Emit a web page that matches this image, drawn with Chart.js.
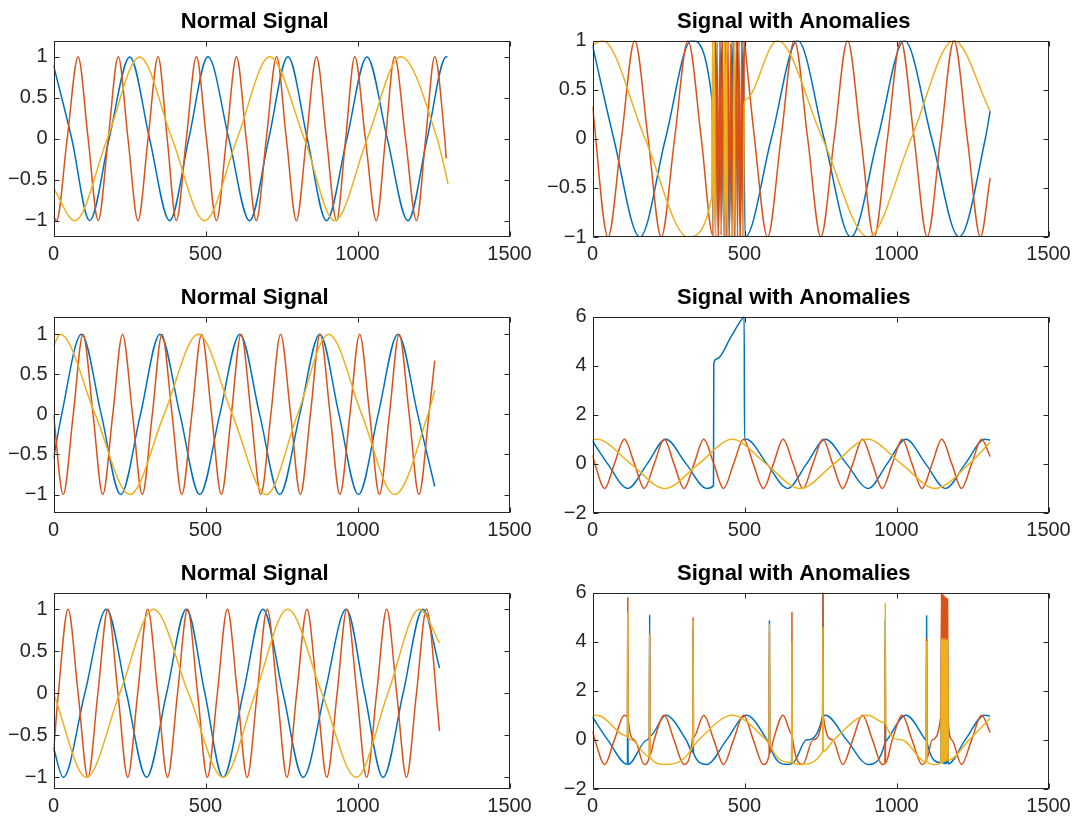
<!DOCTYPE html>
<html>
<head>
<meta charset="utf-8">
<script src="https://cdn.jsdelivr.net/npm/chart.js@4.4.0/dist/chart.umd.min.js"></script>
<style>
    body { margin: 0; background: #fff; }
    #figure { position: relative; width: 1076px; height: 821px; background: #fff; overflow: hidden; }
    #figure canvas { position: absolute; }
</style>
</head>
<body>
<div id="figure">
    <canvas id="g1" width="540" height="272" style="left:0px;top:0px"></canvas>
    <canvas id="g2" width="540" height="272" style="left:539px;top:0px"></canvas>
    <canvas id="g3" width="540" height="272" style="left:0px;top:276px"></canvas>
    <canvas id="g4" width="540" height="272" style="left:539px;top:276px"></canvas>
    <canvas id="g5" width="540" height="272" style="left:0px;top:552px"></canvas>
    <canvas id="g6" width="540" height="272" style="left:539px;top:552px"></canvas>
</div>
<script>
// ============================================================================
// Données : [x, valeur] (pics, creux, passages à zéro)
// ============================================================================
const TITRE_NORMAL = 'Normal Signal';
const TITRE_ANOMALIE = 'Signal with Anomalies';

const ticksX = [0, 500, 1000, 1500];
const ticksUnite = [-1, -0.5, 0, 0.5, 1];
const ticksLarges = [-2, 0, 2, 4, 6];

// --- Ligne 1, gauche (signal normal)
const normal1Bleu = [[0,0.9],[60,0],[119,-1],[183,0],[251,1],[316,0],[382,-1],[445,0],[508,1],[577,0],[645,-1],[708,0],[771,1],[835,0],[898,-1],[965,0],[1031,1],[1098,0],[1166,-1],[1229,0],[1292,1],[1296,1]];
const normal1Rouge = [[0,-0.95],[10,-1],[45,0],[81,1],[114,0],[147,-1],[180,0],[213,1],[245,0],[278,-1],[311,0],[344,1],[374,0],[404,-1],[437,0],[470,1],[503,0],[536,-1],[569,0],[602,1],[634,0],[667,-1],[700,0],[734,1],[766,0],[799,-1],[832,0],[865,1],[898,0],[931,-1],[961,0],[991,1],[1026,0],[1062,-1],[1092,0],[1122,1],[1158,0],[1194,-1],[1224,0],[1254,1],[1287,0],[1292,-0.24]];
const normal1Jaune = [[0,-0.6],[70,-1],[177,0],[283,1],[390,0],[497,-1],[604,0],[711,1],[825,0],[925,-1],[1032,0],[1142,1],[1262,0],[1298,-0.55]];

// --- Ligne 1, droite (salve haute fréquence vers 400-500)
const anomalie1Bleu = [[0,0.95],[70,0],[156,-1],[240,0],[325,1],[393,0.4],[398,-1],[405,1],[414,-1],[423,1],[432,-1],[441,1],[450,-1],[459,1],[468,-1],[477,1],[486,-1],[495,1],[502,-1],[588,0],[675,1],[762,0],[850,-1],[938,0],[1026,1],[1116,0],[1206,-1],[1292,0],[1308,0.28]];
const anomalie1Rouge = [[0,0.33],[51,-1],[95,0],[139,1],[183,0],[226,-1],[270,0],[314,1],[358,0],[396,-0.98],[401,1],[405,-1],[410,0.98],[414,-1],[419,1],[423,-0.98],[428,1],[432,-1],[437,0.99],[441,-1],[446,1],[450,-1],[455,0.97],[459,-1],[464,1],[468,-0.99],[473,1],[477,-1],[482,1],[486,-1],[491,1],[495,-1],[500,0.99],[505,0.84],[533,0],[576,-1],[620,0],[664,1],[708,0],[751,-1],[795,0],[839,1],[883,0],[926,-1],[970,0],[1014,1],[1058,0],[1101,-1],[1145,0],[1189,1],[1233,0],[1276,-1],[1308,-0.4]];
const anomalie1Jaune = [[0,0.95],[32,1],[173,0],[314,-1],[392,-0.6],[395,1],[398,-1],[401,1],[404,-1],[432,-1],[435,1],[438,-1],[441,1],[444,-1],[463,-1],[466,1],[469,-1],[496,-1],[499,0.35],[505,0.4],[608,1],[757,0],[907,-1],[1048,0],[1189,1],[1308,0.28]];

// --- Ligne 2, gauche
const normal2Bleu = [[0,-0.55],[27,0],[92,1],[157,0],[221,-1],[286,0],[350,1],[416,0],[481,-1],[547,0],[613,1],[678,0],[744,-1],[810,0],[876,1],[939,0],[1003,-1],[1068,0],[1133,1],[1198,0],[1254,-0.9]];
const normal2Rouge = [[0,0],[32,-1],[65,0],[97,1],[130,0],[162,-1],[195,0],[227,1],[260,0],[292,-1],[325,0],[357,1],[390,0],[422,-1],[455,0],[487,1],[520,0],[552,-1],[585,0],[617,1],[650,0],[682,-1],[715,0],[747,1],[780,0],[812,-1],[845,0],[877,1],[910,0],[942,-1],[975,0],[1007,1],[1040,0],[1072,-1],[1105,0],[1137,1],[1170,0],[1202,-1],[1235,0],[1254,0.67]];
const normal2Jaune = [[0,0.85],[22,1],[137,0],[251,-1],[364,0],[476,1],[588,0],[700,-1],[803,0],[905,1],[1014,0],[1122,-1],[1232,0],[1254,0.3]];

// --- Ligne 2, droite (décalage de +5 sur 400-500)
const anomalie2Bleu = [[0,0.93],[50,0],[116,-1],[180,0],[241,1],[308,0],[376,-1],[398,-0.88],[399,4.1],[410,4.28],[455,5.16],[497,5.98],[499,5.99],[500,1],[506,1],[574,0],[642,-1],[704,0],[766,1],[836,0],[907,-1],[969,0],[1031,1],[1096,0],[1161,-1],[1226,0],[1290,1],[1308,0.97]];
const anomalie2Rouge = [[0,0.35],[8,0],[40,-1],[72,0],[105,1],[138,0],[170,-1],[203,0],[236,1],[268,0],[301,-1],[334,0],[366,1],[399,0],[431,-1],[464,0],[497,1],[529,0],[562,-1],[595,0],[627,1],[660,0],[692,-1],[725,0],[758,1],[790,0],[823,-1],[856,0],[888,1],[921,0],[953,-1],[986,0],[1019,1],[1051,0],[1084,-1],[1117,0],[1149,1],[1182,0],[1214,-1],[1247,0],[1280,1],[1308,0.3]];
const anomalie2Jaune = [[0,0.99],[15,1],[126,0],[238,-1],[349,0],[460,1],[571,0],[683,-1],[794,0],[905,1],[1016,0],[1128,-1],[1239,0],[1308,0.88]];

// --- Ligne 3, gauche
const normal3Bleu = [[0,-0.65],[32,-1],[103,0],[174,1],[240,0],[306,-1],[372,0],[437,1],[498,0],[558,-1],[624,0],[689,1],[755,0],[821,-1],[892,0],[963,1],[1023,0],[1084,-1],[1150,0],[1215,1],[1270,0.3]];
const normal3Rouge = [[0,-0.7],[16,0],[48,1],[81,0],[113,-1],[146,0],[179,1],[212,0],[244,-1],[277,0],[310,1],[343,0],[375,-1],[408,0],[441,1],[474,0],[506,-1],[539,0],[572,1],[605,0],[637,-1],[670,0],[703,1],[736,0],[768,-1],[800,0],[834,1],[867,0],[899,-1],[933,0],[965,1],[998,0],[1030,-1],[1063,0],[1096,1],[1129,0],[1161,-1],[1194,0],[1227,1],[1270,-0.45]];
const normal3Jaune = [[0,0],[108,-1],[218,0],[329,1],[444,0],[558,-1],[664,0],[770,1],[883,0],[996,-1],[1100,0],[1204,1],[1270,0.6]];

// --- Ligne 3, droite (pics isolés et rafale vers 1150)
const anomalie3Bleu = [[0,0.93],[50,0],[115,-1],[116,4.0],[117,-1],[180,0],[187,0.13],[188,5.1],[189,0.17],[241,1],[308,0],[330,-0.5],[331,4.5],[332,-0.52],[376,-1],[441,0],[506,1],[574,0],[581,-0.17],[582,4.85],[583,-0.21],[642,-1],[655,-0.97],[656,4.0],[657,-0.96],[704,0],[757,0.98],[758,5.98],[759,0.99],[766,1],[836,0],[907,-1],[962,-0.12],[963,4.9],[964,-0.08],[969,0],[1031,1],[1096,0],[1098,-0.03],[1099,5.05],[1100,-0.08],[1146,-0.93],[1148,4.0],[1150,-0.96],[1152,4.02],[1154,-0.98],[1156,4.0],[1158,-0.99],[1160,4.0],[1162,-1],[1164,4.0],[1166,-0.99],[1168,4.0],[1170,-0.98],[1226,0],[1290,1],[1308,0.97]];
const anomalie3Rouge = [[0,0.35],[8,0],[40,-1],[72,0],[105,1],[115,0.95],[116,5.8],[117,0.9],[138,0],[170,-1],[187,-0.68],[188,4.35],[189,-0.62],[203,0],[236,1],[268,0],[301,-1],[330,0.2],[331,5.0],[332,0.1],[366,1],[399,0],[431,-1],[464,0],[497,1],[529,0],[562,-1],[581,-0.6],[582,4.4],[583,-0.55],[595,0],[627,1],[655,0.25],[656,5.2],[657,0.15],[692,-1],[725,0],[757,1],[758,6],[759,1],[790,0],[823,-1],[856,0],[888,1],[921,0],[953,-1],[962,-0.96],[963,4.05],[964,-0.93],[986,0],[1019,1],[1051,0],[1084,-1],[1098,-0.8],[1099,4.15],[1100,-0.76],[1117,0],[1146,0.98],[1148,5.95],[1150,1],[1152,5.95],[1154,0.98],[1156,5.9],[1158,0.94],[1160,5.85],[1162,0.9],[1164,5.8],[1166,0.85],[1168,5.75],[1170,0.78],[1182,0],[1214,-1],[1247,0],[1280,1],[1308,0.3]];
const anomalie3Jaune = [[0,0.99],[15,1],[115,0.15],[116,5.2],[117,0.13],[126,0],[187,-0.69],[188,4.3],[189,-0.71],[238,-1],[330,-0.27],[331,4.85],[332,-0.23],[349,0],[460,1],[571,0],[581,-0.14],[582,4.7],[583,-0.17],[655,-0.92],[656,4.0],[657,-0.93],[683,-1],[757,-0.49],[758,4.6],[759,-0.47],[794,0],[905,1],[962,0.69],[963,5.55],[964,0.67],[1016,0],[1098,-0.9],[1099,4.0],[1100,-0.9],[1128,-1],[1146,-0.96],[1148,4.1],[1150,-0.95],[1152,4.15],[1154,-0.93],[1156,4.1],[1158,-0.91],[1160,4.15],[1162,-0.89],[1164,4.1],[1166,-0.86],[1168,4.1],[1170,-0.83],[1239,0],[1308,0.88]];

// ============================================================================
// Style (couleurs MATLAB par défaut)
// ============================================================================
const COULEURS = ['#0072BD', '#D95319', '#EDB120'];
const COULEUR_AXE = '#262626';
const LONGUEUR_TICK = 5;

Chart.defaults.font.family = '"Liberation Sans", Arial, sans-serif';

// Signe moins typographique comme dans MATLAB
const formaterTick = (v) => (v < 0 ? '\u2212' + String(-v) : String(v));

// Cadre complet + graduations tournées vers l'intérieur, sur les 4 côtés
const pluginCadre = {
    id: 'cadre',
    afterDatasetsDraw(chart) {
        const { ctx, chartArea } = chart;
        const g = Math.round(chartArea.left) + 0.5;
        const d = Math.round(chartArea.right) - 0.5;
        const h = Math.round(chartArea.top) + 0.5;
        const b = Math.round(chartArea.bottom) - 0.5;
        ctx.save();
        ctx.strokeStyle = COULEUR_AXE;
        ctx.lineWidth = 1;
        ctx.beginPath();
        chart.scales.x.ticks.forEach(t => {
            const px = Math.round(chart.scales.x.getPixelForValue(t.value)) + 0.5;
            ctx.moveTo(px, b); ctx.lineTo(px, b - LONGUEUR_TICK);
            ctx.moveTo(px, h); ctx.lineTo(px, h + LONGUEUR_TICK);
        });
        chart.scales.y.ticks.forEach(t => {
            const py = Math.round(chart.scales.y.getPixelForValue(t.value)) + 0.5;
            ctx.moveTo(g, py); ctx.lineTo(g + LONGUEUR_TICK, py);
            ctx.moveTo(d, py); ctx.lineTo(d - LONGUEUR_TICK, py);
        });
        ctx.stroke();
        ctx.strokeRect(g, h, d - g, b - h);
        ctx.restore();
    }
};

function creerSerie(points, i) {
    return {
        data: points.map(p => ({ x: p[0], y: p[1] })),
        borderColor: COULEURS[i],
        borderWidth: 1.5,
        borderJoinStyle: 'round',
        pointRadius: 0,
        cubicInterpolationMode: 'monotone',
        order: 3 - i, // le jaune passe au-dessus, comme dans MATLAB
        clip: 0
    };
}

function creerPanneau(id, titre, series, yMin, yMax, ticksY) {
    new Chart(document.getElementById(id), {
        type: 'line',
        data: { datasets: series.map(creerSerie) },
        options: {
            responsive: false,
            animation: false,
            events: [],
            layout: { padding: { top: 0, left: 0, right: 30.5, bottom: 0 } },
            plugins: {
                legend: { display: false },
                tooltip: { enabled: false },
                title: {
                    display: true,
                    text: titre,
                    color: '#000',
                    font: { size: 22, weight: 'bold' },
                    padding: { top: 8.3, bottom: 5.8 }
                }
            },
            scales: {
                x: {
                    type: 'linear',
                    min: 0,
                    max: 1500,
                    bounds: 'data',
                    afterBuildTicks: s => { s.ticks = ticksX.map(v => ({ value: v })); },
                    afterFit: s => { s.height = 35; },
                    grid: { display: false, drawTicks: false },
                    border: { display: false },
                    ticks: { color: COULEUR_AXE, font: { size: 20 }, padding: 5, maxRotation: 0, autoSkip: false, callback: formaterTick }
                },
                y: {
                    type: 'linear',
                    min: yMin,
                    max: yMax,
                    bounds: 'data',
                    afterBuildTicks: s => { s.ticks = ticksY.map(v => ({ value: v })); },
                    afterFit: s => { s.width = 53.5; },
                    grid: { display: false, drawTicks: false },
                    border: { display: false },
                    ticks: { color: COULEUR_AXE, font: { size: 20 }, padding: 6, autoSkip: false, callback: formaterTick }
                }
            }
        },
        plugins: [pluginCadre]
    });
}

// ============================================================================
// Construction des six sous-graphiques
// ============================================================================
creerPanneau('g1', TITRE_NORMAL, [normal1Bleu, normal1Rouge, normal1Jaune], -1.2, 1.2, ticksUnite);
creerPanneau('g2', TITRE_ANOMALIE, [anomalie1Bleu, anomalie1Rouge, anomalie1Jaune], -1, 1, ticksUnite);
creerPanneau('g3', TITRE_NORMAL, [normal2Bleu, normal2Rouge, normal2Jaune], -1.23, 1.22, ticksUnite);
creerPanneau('g4', TITRE_ANOMALIE, [anomalie2Bleu, anomalie2Rouge, anomalie2Jaune], -2, 6, ticksLarges);
creerPanneau('g5', TITRE_NORMAL, [normal3Bleu, normal3Rouge, normal3Jaune], -1.14, 1.2, ticksUnite);
creerPanneau('g6', TITRE_ANOMALIE, [anomalie3Bleu, anomalie3Rouge, anomalie3Jaune], -2, 6, ticksLarges);
</script>
</body>
</html>
